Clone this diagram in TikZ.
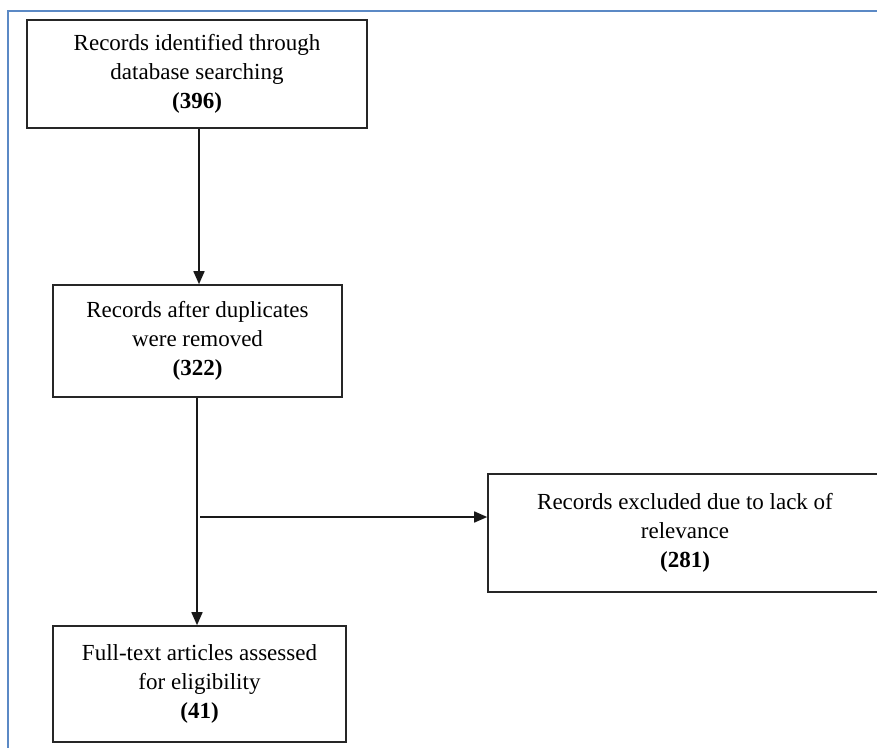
\documentclass[tikz,border=0pt]{standalone}
\usepackage{fontspec}
\setmainfont{Liberation Serif}
\usetikzlibrary{arrows.meta}
\definecolor{framebl}{RGB}{91,137,197}
\begin{document}
\begin{tikzpicture}[x=1pt,y=-1pt,
  box/.style={draw=black!85, line width=1.6pt, align=center, inner sep=0pt,
    font=\fontsize{23}{29}\selectfont},
  arr/.style={draw=black!90, line width=1.6pt, -{Triangle[length=13pt,width=11pt]}}]
\useasboundingbox (0,0) rectangle (877,747);
\clip (0,0) rectangle (877,747);
\draw[framebl, line width=2.2pt] (8,750) -- (8,11) -- (880,11);
\node[box, minimum width=340pt, minimum height=108pt] (b1) at (197,74)
  {Records identified through\\ database searching\\ \textbf{(396)}};
\node[box, minimum width=289pt, minimum height=112pt] (b2) at (197.5,341)
  {Records after duplicates\\ were removed\\ \textbf{(322)}};
\node[box, minimum width=394pt, minimum height=118pt] (b3) at (685,533)
  {Records excluded due to lack of\\ relevance\\ \textbf{(281)}};
\node[box, minimum width=293pt, minimum height=116pt] (b4) at (199.5,684)
  {Full-text articles assessed\\ for eligibility\\ \textbf{(41)}};
\draw[arr] (b1.south -| 199,0) -- (b2.north -| 199,0);
\coordinate (j) at (197,517);
\draw[arr] (b2.south -| j) -- (b4.north -| j);
\draw[arr] ([xshift=3pt]j) -- (j -| b3.west);
\end{tikzpicture}
\end{document}
